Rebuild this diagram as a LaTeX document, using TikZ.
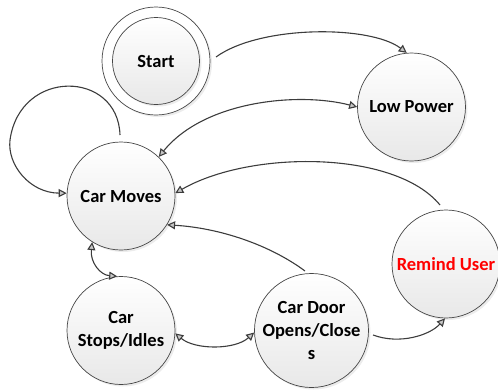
\documentclass[tikz,border=0pt]{standalone}
\usepackage{fontspec}
\setmainfont{Carlito}
\usetikzlibrary{arrows.meta,shadows}
\definecolor{edgecol}{HTML}{3C3C3C}
\definecolor{rimcol}{HTML}{454545}
\begin{document}
\begin{tikzpicture}[x=1pt,y=-1pt,
  state/.style={circle,draw=rimcol,line width=0.7pt,minimum size=108pt,inner sep=0pt,
    align=center,font=\fontsize{18.5}{23}\selectfont\bfseries,
    shading=axis,top color=white,bottom color=black!9,
    drop shadow={opacity=0.15,shadow xshift=2pt,shadow yshift=-2pt}},
  conn/.style={draw=edgecol,line width=1.1pt},
  one/.style={conn,-{Triangle[length=8pt,width=8pt,fill=black!22]}},
  both/.style={conn,{Triangle[length=8pt,width=8pt,fill=black!22]}-{Triangle[length=8pt,width=8pt,fill=black!22]}}]
\useasboundingbox (0,0) rectangle (498,389);
% nodes
\node[circle,draw=rimcol,line width=0.7pt,minimum size=108pt,fill=white,
  drop shadow={opacity=0.15,shadow xshift=2pt,shadow yshift=-2pt}] (start) at (156,61) {};
\node[state,minimum size=87pt] (startin) at (156,61) {Start};
\node[state] (low) at (411.5,107) {Low Power};
\node[state] (moves) at (121,196) {Car Moves};
\node[state] (remind) at (446,264) {\textcolor{red}{Remind User}};
\node[state] (stops) at (121,330.5) {Car\\Stops/Idles};
\node[state] (door) at (311.5,330.5) {Car Door\\Opens/Close\\s};
% connector free ends (small gaps at the source circles)
\coordinate (s1) at (216,57);
\coordinate (s3) at (440,205);
\coordinate (s4) at (305,271);
\coordinate (s7) at (373,335);
\coordinate (s8) at (120,135);
% connectors
\draw[one] (s1) .. controls (260,25) and (370,25) .. (low.95);
\draw[both] (moves.46) .. controls (205,100) and (300,92) .. (low.180);
\draw[one] (s3) .. controls (395,150) and (250,150) .. (moves.3);
\draw[one] (s4) .. controls (270,245) and (220,228) .. (moves.-32);
\draw[both] (moves.-122) .. controls (90,262) and (100,275) .. (stops.94);
\draw[both] (stops.-3) .. controls (195,350) and (235,350) .. (door.182);
\draw[one] (s7) .. controls (400,345) and (430,335) .. (remind.-91);
\draw[one] (s8) .. controls (118,70) and (20,68) .. (10,140)
  .. controls (7,165) and (30,193) .. (moves.177);
\end{tikzpicture}
\end{document}
